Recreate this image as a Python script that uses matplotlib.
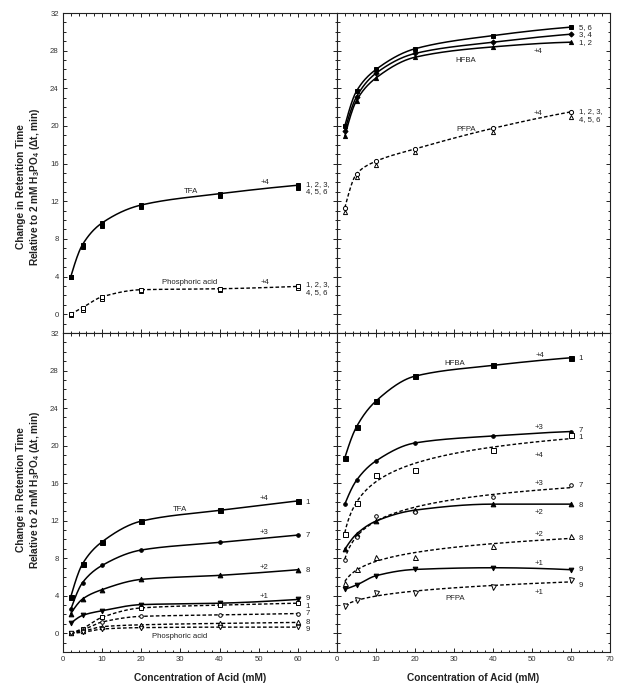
import numpy as np
import matplotlib
matplotlib.use('Agg')
import matplotlib.pyplot as plt
from matplotlib.ticker import MultipleLocator, FixedLocator

plt.rcParams['font.family'] = ['Liberation Sans', 'DejaVu Sans']
plt.rcParams['mathtext.fontset'] = 'custom'
plt.rcParams['mathtext.rm'] = 'Liberation Sans'
plt.rcParams['mathtext.bf'] = 'Liberation Sans:bold'
plt.rcParams['mathtext.it'] = 'Liberation Sans:italic'

# ---------------- data ----------------
conc = [2, 5, 10, 20, 40, 60]

# Top-left: peptides 1-6 (TFA and phosphoric acid)
tfa_1to6_a = [4.0, 7.4, 9.7, 11.6, 12.8, 13.7]
tfa_1to6_b = [3.95, 7.15, 9.4, 11.35, 12.6, 13.45]
phos_1to6_a = [0.0, 0.7, 1.85, 2.6, 2.7, 2.95]
phos_1to6_b = [-0.05, 0.45, 1.6, 2.45, 2.55, 2.8]

# Top-right: peptides 1-6 (HFBA and PFPA)
hfba_5_6 = [20.0, 23.7, 26.0, 28.2, 29.6, 30.5]
hfba_3_4 = [19.5, 23.1, 25.6, 27.7, 28.9, 29.75]
hfba_1_2 = [18.9, 22.7, 25.1, 27.3, 28.4, 28.9]
pfpa_1to6_a = [11.3, 14.9, 16.25, 17.55, 19.75, 21.5]
pfpa_1to6_b = [10.9, 14.6, 15.85, 17.2, 19.4, 21.0]

# Bottom-left: peptides 1, 7, 8, 9 (TFA and phosphoric acid)
tfa_1 = [3.9, 7.4, 9.75, 11.95, 13.1, 14.1]
tfa_7 = [2.55, 5.4, 7.23, 8.87, 9.68, 10.46]
tfa_8 = [2.1, 3.65, 4.65, 5.74, 6.17, 6.77]
tfa_9 = [1.06, 1.9, 2.4, 3.05, 3.2, 3.6]
phos_1 = [0.0, 0.5, 1.7, 2.7, 3.0, 3.2]
phos_7 = [0.0, 0.35, 1.2, 1.8, 1.95, 2.1]
phos_8 = [0.0, 0.2, 0.7, 0.9, 1.05, 1.15]
phos_9 = [0.0, 0.1, 0.45, 0.6, 0.65, 0.65]

# Bottom-right: peptides 1, 7, 8, 9 (HFBA and PFPA)
hfba_1 = [18.7, 22.0, 24.75, 27.4, 28.55, 29.36]
hfba_7 = [13.76, 16.3, 18.37, 20.28, 21.03, 21.5]
hfba_8 = [8.94, 10.57, 11.95, 13.12, 13.76, 13.76]
hfba_9 = [4.68, 5.14, 6.13, 6.8, 6.98, 6.77]
pfpa_1 = [10.6, 13.9, 16.9, 17.45, 19.57, 21.1]
pfpa_7 = [7.8, 10.3, 12.5, 12.94, 14.5, 15.85]
pfpa_8 = [5.4, 6.8, 8.1, 8.16, 9.3, 10.4]
pfpa_9 = [2.9, 3.5, 4.25, 4.25, 4.9, 5.67]

y_ticks = [0, 4, 8, 12, 16, 20, 24, 28, 32]
x_ticks = [0, 10, 20, 30, 40, 50, 60, 70]

# ---------------- helpers ----------------
def pchip(x, y, n=300):
    x = np.asarray(x, float)
    y = np.asarray(y, float)
    h = np.diff(x)
    d = np.diff(y) / h
    m = np.zeros_like(y)
    for k in range(1, len(x) - 1):
        if d[k - 1] * d[k] > 0:
            w1 = 2 * h[k] + h[k - 1]
            w2 = h[k] + 2 * h[k - 1]
            m[k] = (w1 + w2) / (w1 / d[k - 1] + w2 / d[k])

    def end(h0, h1, d0, d1):
        mm = ((2 * h0 + h1) * d0 - h0 * d1) / (h0 + h1)
        if np.sign(mm) != np.sign(d0):
            mm = 0.0
        elif np.sign(d0) != np.sign(d1) and abs(mm) > abs(3 * d0):
            mm = 3 * d0
        return mm
    m[0] = end(h[0], h[1], d[0], d[1])
    m[-1] = end(h[-1], h[-2], d[-1], d[-2])
    xs = np.linspace(x[0], x[-1], n)
    idx = np.clip(np.searchsorted(x, xs) - 1, 0, len(x) - 2)
    t = (xs - x[idx]) / h[idx]
    h00 = 2 * t**3 - 3 * t**2 + 1
    h10 = t**3 - 2 * t**2 + t
    h01 = -2 * t**3 + 3 * t**2
    h11 = t**3 - t**2
    ys = h00 * y[idx] + h10 * h[idx] * m[idx] + h01 * y[idx + 1] + h11 * h[idx] * m[idx + 1]
    return xs, ys


def logfit(x, y, n=300):
    x = np.asarray(x, float)
    y = np.asarray(y, float)
    p = np.polyfit(np.log(x), y, 2)
    xs = np.linspace(x[0], x[-1], n)
    return xs, np.polyval(p, np.log(xs))


SOLID = dict(color='black', lw=1.1, solid_capstyle='round')
DASH = dict(color='black', lw=1.0, linestyle=(0, (2.6, 1.6)))


def series(ax, y, marker, filled, dashed, ms=3.4, curve='pchip', draw_line=True):
    if draw_line:
        xs, ys = (pchip(conc, y) if curve == 'pchip' else logfit(conc, y))
        ax.plot(xs, ys, zorder=2, **(DASH if dashed else SOLID))
    ax.plot(conc, y, linestyle='none', marker=marker, ms=ms,
            mfc=('black' if filled else 'white'), mec='black', mew=0.7, zorder=3)


fig = plt.figure(figsize=(6.29, 6.89), dpi=100)
W, H = 629.0, 689.0
xl, xm, xr = 63 / W, 337 / W, 610 / W
yt, ym, yb = 1 - 13 / H, 1 - 333 / H, 1 - 652 / H

ax_tl = fig.add_axes([xl, ym, xm - xl, yt - ym])
ax_tr = fig.add_axes([xm, ym, xr - xm, yt - ym])
ax_bl = fig.add_axes([xl, yb, xm - xl, ym - yb])
ax_br = fig.add_axes([xm, yb, xr - xm, ym - yb])

for ax in (ax_tl, ax_tr, ax_bl, ax_br):
    ax.set_xlim(0, 70)
    ax.set_ylim(-2, 32)
    ax.xaxis.set_major_locator(FixedLocator(x_ticks))
    ax.xaxis.set_minor_locator(MultipleLocator(2))
    ax.yaxis.set_major_locator(FixedLocator(y_ticks))
    ax.yaxis.set_minor_locator(MultipleLocator(1))
    ax.tick_params(which='both', direction='in', top=True, right=True,
                   width=0.7, color='#222222', labelsize=5.6, labelcolor='#333333', pad=3)
    ax.tick_params(which='major', length=3.2)
    ax.tick_params(which='minor', length=1.8)
    for s in ax.spines.values():
        s.set_linewidth(0.8)
        s.set_color('#222222')

ax_tl.tick_params(labelbottom=False)
ax_tr.tick_params(labelbottom=False, labelleft=False)
ax_br.tick_params(labelleft=False)
ax_bl.set_xticks(x_ticks)
ax_bl.set_xticklabels([str(v) for v in x_ticks[:-1]] + [''])

# ---------------- top-left ----------------
series(ax_tl, tfa_1to6_b, 's', True, False, draw_line=False)
series(ax_tl, tfa_1to6_a, 's', True, False)
series(ax_tl, phos_1to6_b, 's', False, True, ms=3.0, draw_line=False)
series(ax_tl, phos_1to6_a, 's', False, True, ms=3.0)

# ---------------- top-right ----------------
series(ax_tr, hfba_1_2, '^', True, False, ms=3.0)
series(ax_tr, hfba_3_4, 'D', True, False, ms=2.6)
series(ax_tr, hfba_5_6, 's', True, False, ms=3.4)
series(ax_tr, pfpa_1to6_b, '^', False, True, ms=3.0, draw_line=False)
series(ax_tr, pfpa_1to6_a, 'o', False, True, ms=3.0)

# ---------------- bottom-left ----------------
series(ax_bl, tfa_1, 's', True, False, ms=3.6)
series(ax_bl, tfa_7, 'o', True, False, ms=2.6)
series(ax_bl, tfa_8, '^', True, False, ms=3.4)
series(ax_bl, tfa_9, 'v', True, False, ms=3.4)
series(ax_bl, phos_1, 's', False, True, ms=3.2)
series(ax_bl, phos_7, 'o', False, True, ms=2.6)
series(ax_bl, phos_8, '^', False, True, ms=3.2)
series(ax_bl, phos_9, 'v', False, True, ms=3.2)

# ---------------- bottom-right ----------------
series(ax_br, hfba_1, 's', True, False, ms=3.6)
series(ax_br, hfba_7, 'o', True, False, ms=2.6)
series(ax_br, hfba_8, '^', True, False, ms=3.4)
series(ax_br, hfba_9, 'v', True, False, ms=3.4)
series(ax_br, pfpa_1, 's', False, True, ms=3.6, curve='fit')
series(ax_br, pfpa_7, 'o', False, True, ms=2.6, curve='fit')
series(ax_br, pfpa_8, '^', False, True, ms=3.6, curve='fit')
series(ax_br, pfpa_9, 'v', False, True, ms=3.6, curve='fit')

# ---------------- annotations ----------------
TXT = dict(fontsize=5.6, color='#222222', va='center')
six = '1, 2, 3,\n4, 5, 6'
notes = [
    (ax_tl, 32.6, 13.0, 'TFA', 'center'), (ax_tl, 51.5, 14.0, '+4', 'center'),
    (ax_tl, 62.0, 13.4, six, 'left'),
    (ax_tl, 32.4, 3.4, 'Phosphoric acid', 'center'), (ax_tl, 51.5, 3.4, '+4', 'center'),
    (ax_tl, 62.0, 2.75, six, 'left'),
    (ax_tr, 33.1, 27.0, 'HFBA', 'center'), (ax_tr, 51.6, 27.9, '+4', 'center'),
    (ax_tr, 62.0, 30.5, '5, 6', 'left'), (ax_tr, 62.0, 29.7, '3, 4', 'left'),
    (ax_tr, 62.0, 28.9, '1, 2', 'left'),
    (ax_tr, 33.2, 19.6, 'PFPA', 'center'), (ax_tr, 51.6, 21.3, '+4', 'center'),
    (ax_tr, 62.0, 21.1, six, 'left'),
    (ax_bl, 29.8, 13.2, 'TFA', 'center'),
    (ax_bl, 51.3, 14.4, '+4', 'center'), (ax_bl, 51.3, 10.7, '+3', 'center'),
    (ax_bl, 51.3, 7.0, '+2', 'center'), (ax_bl, 51.3, 3.9, '+1', 'center'),
    (ax_bl, 62.0, 13.9, '1', 'left'), (ax_bl, 62.0, 10.4, '7', 'left'),
    (ax_bl, 62.0, 6.67, '8', 'left'), (ax_bl, 62.0, 3.7, '9', 'left'),
    (ax_bl, 62.0, 2.9, '1', 'left'), (ax_bl, 62.0, 2.06, '7', 'left'),
    (ax_bl, 62.0, 1.17, '8', 'left'), (ax_bl, 62.0, 0.35, '9', 'left'),
    (ax_bl, 29.8, -0.4, 'Phosphoric acid', 'center'),
    (ax_br, 30.2, 28.8, 'HFBA', 'center'), (ax_br, 52.0, 29.6, '+4', 'center'),
    (ax_br, 51.7, 21.9, '+3', 'center'), (ax_br, 51.7, 18.9, '+4', 'center'),
    (ax_br, 51.7, 16.0, '+3', 'center'), (ax_br, 51.7, 12.9, '+2', 'center'),
    (ax_br, 51.7, 10.5, '+2', 'center'), (ax_br, 51.7, 7.4, '+1', 'center'),
    (ax_br, 51.7, 4.36, '+1', 'center'), (ax_br, 30.2, 3.7, 'PFPA', 'center'),
    (ax_br, 62.0, 29.25, '1', 'left'), (ax_br, 62.0, 21.6, '7', 'left'),
    (ax_br, 62.0, 20.85, '1', 'left'), (ax_br, 62.0, 15.7, '7', 'left'),
    (ax_br, 62.0, 13.65, '8', 'left'), (ax_br, 62.0, 10.1, '8', 'left'),
    (ax_br, 62.0, 6.74, '9', 'left'), (ax_br, 62.0, 5.07, '9', 'left'),
]
for ax, x, y, t, ha in notes:
    ax.text(x, y, t, ha=ha, linespacing=1.15, **TXT)

# ---------------- axis titles ----------------
ylab = 'Change in Retention Time\nRelative to 2 mM H$_\\mathbf{3}$PO$_\\mathbf{4}$ (\u0394t, min)'
for yc in (1 - 187 / H, 1 - 490 / H):
    fig.text(29 / W, yc, ylab, rotation=90, ha='center', va='center',
             fontsize=7.3, fontweight='bold', color='#222222',
             multialignment='center', linespacing=1.2)
for xc in ((63 + 337) / 2 / W, (337 + 610) / 2 / W):
    fig.text(xc, 1 - 678 / H, 'Concentration of Acid (mM)', ha='center', va='center',
             fontsize=7.3, fontweight='bold', color='#222222')

fig.savefig('out.png', dpi=100)
